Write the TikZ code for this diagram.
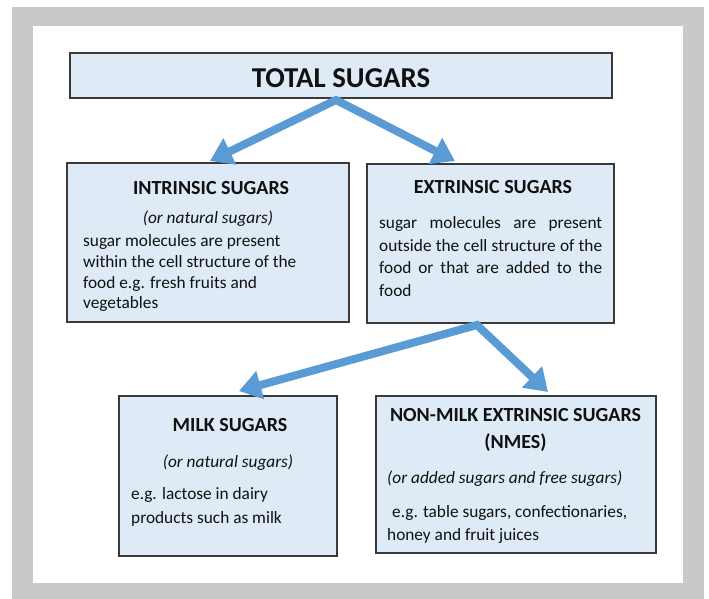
\documentclass[tikz,border=0pt]{standalone}
\usepackage{fontspec}
\setmainfont{Carlito}
\usetikzlibrary{arrows.meta}
\definecolor{framegray}{HTML}{C8C9CB}
\definecolor{boxfill}{HTML}{DEEAF6}
\definecolor{boxline}{HTML}{3A3A3A}
\definecolor{arrowblue}{HTML}{5B9BD5}
\definecolor{txt}{HTML}{111111}
\tikzset{
  box/.style={draw=boxline, fill=boxfill, line width=1.3pt, anchor=north west, inner sep=0pt, outer sep=0pt},
  flow/.style={draw=arrowblue, line width=8pt, line join=miter,
    {Triangle[width=28pt,length=22pt]}-{Triangle[width=28pt,length=22pt]}},
  ttl/.style={font=\fontsize{28.8}{34}\selectfont\bfseries, text=txt, inner sep=0pt, anchor=base},
  head/.style={font=\fontsize{20}{24}\selectfont\bfseries, text=txt, inner sep=0pt, anchor=base},
  ital/.style={font=\fontsize{17.3}{21}\selectfont\itshape, text=txt, inner sep=0pt},
  body/.style={font=\fontsize{17.3}{21}\selectfont, text=txt, inner sep=0pt, anchor=base west}
}
\begin{document}
\begin{tikzpicture}[x=1pt,y=-1pt]
\useasboundingbox (0,0) rectangle (709,599);
\fill[white] (0,0) rectangle (709,599);
\fill[framegray] (12,7) rectangle (704,599);
\fill[white] (33,26) rectangle (683,583);

% boxes
\node[box, minimum width=542pt, minimum height=45pt] (total) at (70,53) {};
\node[box, minimum width=282pt, minimum height=159pt] (intr) at (67,163) {};
\node[box, minimum width=247pt, minimum height=159pt] (extr) at (367,164) {};
\node[box, minimum width=218pt, minimum height=160pt] (milk) at (119,396) {};
\node[box, minimum width=280pt, minimum height=157pt] (nmes) at (376,396) {};

% arrows
\coordinate (j1) at (336,100);
\coordinate (t1) at (210,161);
\coordinate (t2) at (455,161);
\coordinate (j2) at (477,325);
\coordinate (t3) at (239,391);
\coordinate (t4) at (548,392);
\draw[flow] (t1) -- (j1) -- (t2);
\draw[flow] (t3) -- (j2) -- (t4);

% texts
\node[ttl] (totaltxt) at (341,87.3) {TOTAL SUGARS};

\node[head] (intrh) at (211,194) {INTRINSIC SUGARS};
\node[ital, anchor=base] (intri) at (208,223) {(or natural sugars)};
\node[body] (intrb1) at (83,246.7) {sugar molecules are present};
\node[body] (intrb2) at (83,267.3) {within the cell structure of the};
\node[body] (intrb3) at (83,288) {food e.g. fresh fruits and};
\node[body] (intrb4) at (83,308.5) {vegetables};

\node[head] (extrh) at (493,193) {EXTRINSIC SUGARS};
\node[body] (extrb1) at (379,228) {\makebox[223pt][s]{sugar molecules are present}};
\node[body] (extrb2) at (379,251) {\makebox[223pt][s]{outside the cell structure of the}};
\node[body] (extrb3) at (379,273) {\makebox[223pt][s]{food or that are added to the}};
\node[body] (extrb4) at (379,296) {food};

\node[head] (milkh) at (230,431) {MILK SUGARS};
\node[ital, anchor=base] (milki) at (228,467) {(or natural sugars)};
\node[body] (milkb1) at (131,499) {e.g. lactose in dairy};
\node[body] (milkb2) at (131,523) {products such as milk};

\node[head] (nmesh1) at (515.5,421) {NON-MILK EXTRINSIC SUGARS};
\node[head] (nmesh2) at (515.5,448) {(NMES)};
\node[ital, anchor=base west] (nmesi) at (387,483) {(or added sugars and free sugars)};
\node[body] (nmesb1) at (392,517) {e.g. table sugars, confectionaries,};
\node[body] (nmesb2) at (387,540) {honey and fruit juices};
\end{tikzpicture}
\end{document}
